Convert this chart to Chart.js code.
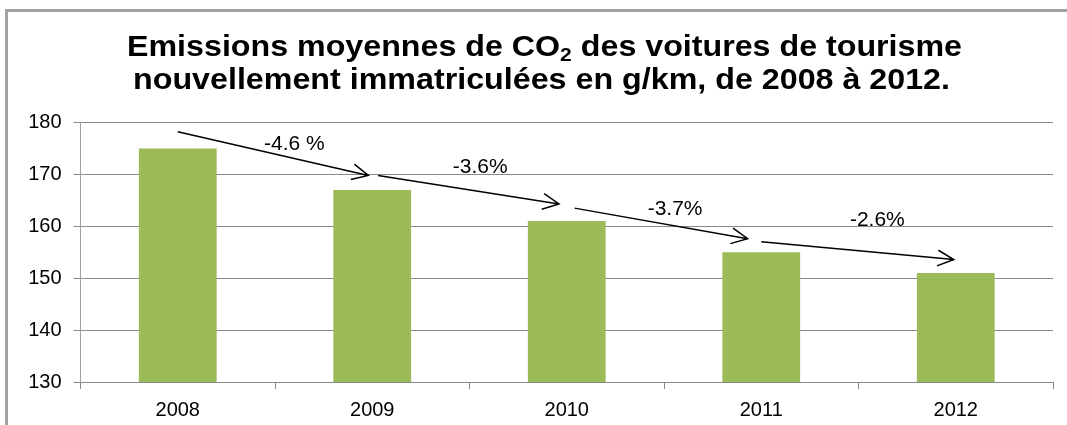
<!DOCTYPE html>
<html>
<head>
<meta charset="utf-8">
<script src="https://cdn.jsdelivr.net/npm/chart.js@4"></script>
<style>
  html, body { margin: 0; padding: 0; background: #fff; }
  #wrap { position: relative; width: 1067px; height: 425px; overflow: hidden; }
  #frame { position: absolute; left: 5px; top: 9px; width: 1100px; height: 500px;
           border-left: 3px solid #a3a3a3; border-top: 3px solid #a3a3a3; }
  canvas { position: absolute; left: 0; top: 0; }
</style>
</head>
<body>
<div id="wrap">
  <div id="frame"></div>
  <canvas id="co2Chart" width="1067" height="425"></canvas>
</div>
<script>
// données
const years = ['2008', '2009', '2010', '2011', '2012'];
const emissions = [175, 167, 161, 155, 151];
const yTicks = [130, 140, 150, 160, 170, 180];

// flèches de tendance (en unités du graphique)
const trendLabels = ['-4.6 %', '-3.6%', '-3.7%', '-2.6%'];
const trendFromAt = [0, 1.03, 2.04, 3.0];
const trendToAt = [0.98, 1.96, 2.93, 3.99];
const trendFrom = [178.2, 169.8, 163.5, 157.0];
const trendTo = [169.8, 164.3, 157.6, 153.6];
const labelAt = [0.6, 1.555, 2.557, 3.597];
const labelValue = [175.9, 171.4, 163.3, 161.1];

// titre : [texte avant l'indice, indice, texte après]
const titleLine1 = ['Emissions moyennes de CO', '2', ' des voitures de tourisme'];
const titleLine2 = 'nouvellement immatriculées en g/km, de 2008 à 2012.';

const font = "'Liberation Sans', Arial, sans-serif";

// titre sur deux lignes avec CO2 en indice, étiré à la largeur voulue
const titleDraw = {
  id: 'titleDraw',
  afterDraw(chart) {
    const ctx = chart.ctx;
    ctx.save();
    ctx.fillStyle = '#000';
    ctx.textBaseline = 'alphabetic';
    ctx.textAlign = 'left';
    const big = 'bold 29px ' + font;
    const small = 'bold 19px ' + font;

    // ligne 1
    ctx.font = big;
    const wA = ctx.measureText(titleLine1[0]).width;
    const wC = ctx.measureText(titleLine1[2]).width;
    ctx.font = small;
    const wB = ctx.measureText(titleLine1[1]).width;
    const s1 = 835 / (wA + wB + wC);
    ctx.save();
    ctx.translate(544.5 - 835 / 2, 56);
    ctx.scale(s1, 1);
    ctx.font = big;
    ctx.fillText(titleLine1[0], 0, 0);
    ctx.font = small;
    ctx.fillText(titleLine1[1], wA, 5);
    ctx.font = big;
    ctx.fillText(titleLine1[2], wA + wB, 0);
    ctx.restore();

    // ligne 2
    ctx.font = big;
    const w2 = ctx.measureText(titleLine2).width;
    ctx.save();
    ctx.translate(541.5 - 817 / 2, 88.5);
    ctx.scale(817 / w2, 1);
    ctx.fillText(titleLine2, 0, 0);
    ctx.restore();
    ctx.restore();
  }
};

// dessine les flèches et les pourcentages
const trendArrows = {
  id: 'trendArrows',
  afterDatasetsDraw(chart) {
    const ctx = chart.ctx;
    const x = chart.scales.x;
    const y = chart.scales.y;
    ctx.save();
    ctx.strokeStyle = '#000';
    ctx.lineWidth = 1.5;
    for (let i = 0; i < trendLabels.length; i++) {
      const x0 = x.getPixelForValue(trendFromAt[i]);
      const y0 = y.getPixelForValue(trendFrom[i]);
      const x1 = x.getPixelForValue(trendToAt[i]);
      const y1 = y.getPixelForValue(trendTo[i]);
      ctx.beginPath();
      ctx.moveTo(x0, y0);
      ctx.lineTo(x1, y1);
      // pointe ouverte
      const a = Math.atan2(y1 - y0, x1 - x0);
      const len = 18, spread = 0.45;
      ctx.moveTo(x1 - len * Math.cos(a - spread), y1 - len * Math.sin(a - spread));
      ctx.lineTo(x1, y1);
      ctx.lineTo(x1 - len * Math.cos(a + spread), y1 - len * Math.sin(a + spread));
      ctx.stroke();

      ctx.fillStyle = '#000';
      ctx.font = '21px ' + font;
      ctx.textAlign = 'center';
      ctx.textBaseline = 'middle';
      ctx.fillText(trendLabels[i], x.getPixelForValue(labelAt[i]), y.getPixelForValue(labelValue[i]));
    }
    ctx.restore();
  }
};

const ctx = document.getElementById('co2Chart').getContext('2d');
const co2Chart = new Chart(ctx, {
  type: 'bar',
  data: {
    labels: years,
    datasets: [{
      data: emissions,
      backgroundColor: '#9bbb59',
      borderWidth: 0,
      categoryPercentage: 1,
      barPercentage: 0.4
    }]
  },
  options: {
    responsive: false,
    animation: false,
    layout: { padding: { left: 0, right: 14, top: 122.5, bottom: 0 } },
    scales: {
      x: {
        grid: {
          drawOnChartArea: false,
          drawTicks: true,
          tickLength: 7,
          color: '#8a8a8a'
        },
        border: { color: '#8a8a8a', width: 1 },
        ticks: {
          color: '#000',
          padding: 9,
          font: { family: font, size: 20 }
        },
        afterFit(scale) { scale.height = 43; }
      },
      y: {
        min: 130,
        max: 180,
        afterBuildTicks(scale) {
          scale.ticks = yTicks.map(v => ({ value: v }));
        },
        grid: {
          color: '#8a8a8a',
          tickLength: 7,
          lineWidth: 1
        },
        border: { color: '#a0a0a0', width: 1 },
        ticks: {
          color: '#000',
          padding: 12,
          font: { family: font, size: 20 }
        },
        afterFit(scale) { scale.width = 80.5; }
      }
    },
    plugins: {
      legend: { display: false },
      tooltip: { enabled: false },
      title: { display: false }
    }
  },
  plugins: [trendArrows, titleDraw]
});
</script>
</body>
</html>
